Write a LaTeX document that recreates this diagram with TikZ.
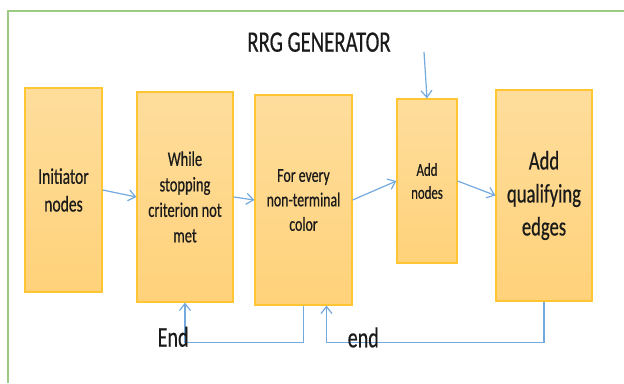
\documentclass[tikz,border=0pt]{standalone}
\usepackage{fontspec}
\usetikzlibrary{arrows.meta}
% Narrow, tall Calibri-like face used for every label
\newfontfamily\calfont[FakeStretch=0.70, FakeBold=0.5]{Carlito}
\definecolor{boxtop}{HTML}{FEDD9C}
\definecolor{boxbot}{HTML}{FFD27A}
\definecolor{boxline}{HTML}{FFC533}
\definecolor{flow}{HTML}{74A9DE}
\definecolor{framegreen}{HTML}{9CC983}
\definecolor{ink}{HTML}{1A1A1A}
\tikzset{
  stage/.style={draw=boxline, line width=1.2pt, top color=boxtop, bottom color=boxbot,
    inner sep=0pt, align=center, text=ink},
  flowarrow/.style={draw=flow, line width=1.2pt, -{Straight Barb[length=7pt,width=11pt]}},
  tag/.style={inner sep=0pt, text=ink},
  framebox/.style={draw=framegreen, line width=2pt}
}
\begin{document}
\begin{tikzpicture}[x=1pt, y=-1pt]
\useasboundingbox (0,0) rectangle (624,383);
% outer panel edge
\draw[framebox] (8.3,383) -- (8.3,11.2) -- (624,11.2);

% title
\node[tag, anchor=base, font=\calfont\fontsize{29.7}{36}\selectfont] (title) at (319,51.7) {RRG GENERATOR};

% stages
\node[stage, minimum width=77pt, minimum height=204pt,
      font=\calfont\fontsize{22.3}{27.7}\selectfont] (b1) at (63.5,190) {Initiator\\nodes};
\node[stage, minimum width=96pt, minimum height=210pt,
      font=\calfont\fontsize{20.7}{25.5}\selectfont] (b2) at (185,197) {While\\stopping\\criterion not\\met};
\node[stage, minimum width=97pt, minimum height=210pt,
      font=\calfont\fontsize{19.8}{24.5}\selectfont] (b3) at (303.5,200) {For every\\non-terminal\\color};
\node[stage, minimum width=60pt, minimum height=164pt,
      font=\calfont\fontsize{18.3}{23}\selectfont] (b4) at (427,181) {Add\\nodes};
\node[stage, minimum width=96pt, minimum height=211pt,
      font=\calfont\fontsize{26.6}{33}\selectfont] (b5) at (544,195.5) {Add\\qualifying\\edges};

% forward flow
\draw[flowarrow] (b1.east) -- (b2.west);
\draw[flowarrow] (b2.east) -- (b3.west);
\draw[flowarrow] (b3.east) -- (b4.west);
\draw[flowarrow] (b4.east) -- (b5.west);
\coordinate (feed) at (424,52);
\draw[flowarrow] (feed) -- (b4.north);

% loop-back paths
\draw[flowarrow] (b3.south) -- ++(0,37) -| (b2.south);
\draw[flowarrow] (b5.south) -- ++(0,41) -| ([xshift=23pt]b3.south);

% loop labels
\node[tag, anchor=base west, font=\calfont\fontsize{28.7}{34}\selectfont] (lblEnd) at (157.5,346.7) {End};
\node[tag, anchor=base west, font=\calfont\fontsize{28.7}{34}\selectfont] (lblend) at (347.5,347.3) {end};
\end{tikzpicture}
\end{document}
